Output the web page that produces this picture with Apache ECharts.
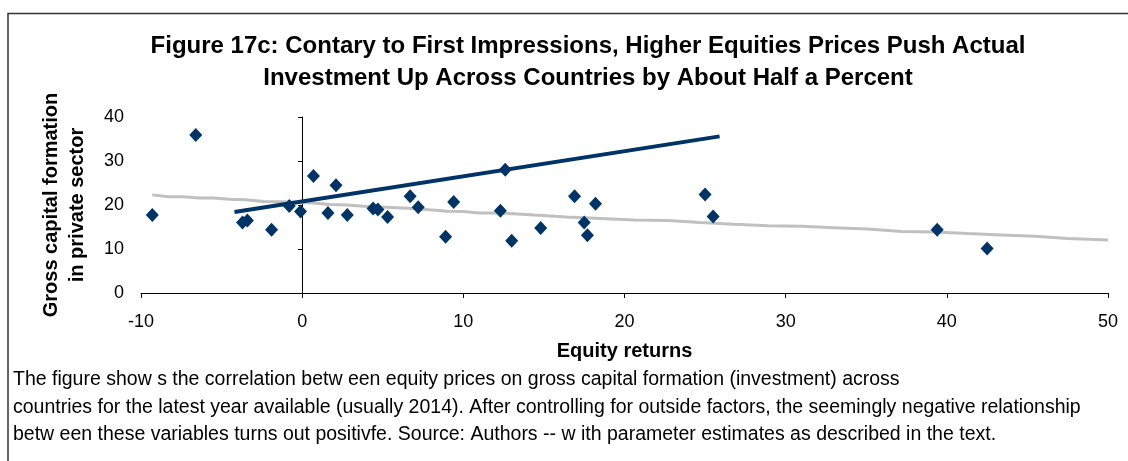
<!DOCTYPE html>
<html>
<head>
<meta charset="utf-8">
<script src="https://cdn.jsdelivr.net/npm/echarts@6/dist/echarts.min.js"></script>
<style>
  html, body { margin: 0; padding: 0; background: #fff; }
  #chart { width: 1128px; height: 461px; }
</style>
</head>
<body>
<div id="chart"></div>
<script>
// country observations: equity returns (x) vs gross capital formation (y)
const equityReturns = [-9.3, -6.6, -3.7, -3.4, -1.9, -0.8, -0.1, 0.7, 1.6, 2.1, 2.8, 4.4, 4.7, 5.3, 6.7, 7.2, 8.9, 9.4, 12.3, 12.6, 13.0, 14.8, 16.9, 17.5, 17.7, 18.2, 25.0, 25.5, 39.4, 42.5];
const capitalFormation = [17.7, 35.9, 16.0, 16.5, 14.4, 19.8, 18.5, 26.6, 18.2, 24.5, 17.7, 19.2, 19.0, 17.3, 22.0, 19.5, 12.8, 20.7, 18.7, 28.0, 11.9, 14.8, 22.0, 16.0, 13.1, 20.3, 22.4, 17.4, 14.4, 10.1];

// fitted line after controls (dark blue)
const fitX = [-4.2, 25.9];
const fitY = [18.4, 35.6];

// raw trend (grey)
const trendX = [-9.3, -8.3, -7.4, -6.4, -5.5, -4.5, -3.5, -2.4, -1.4, -0.35, 0.7, 1.7, 2.8, 3.8, 4.8, 5.9, 6.9, 7.9, 9.0, 10.0, 11.0, 12.3, 14.4, 16.4, 18.5, 20.6, 22.7, 24.7, 26.8, 28.9, 31.0, 33.0, 35.1, 37.2, 39.2, 41.3, 43.4, 45.5, 47.5, 50.0];
const trendY = [22.3, 21.9, 21.9, 21.6, 21.6, 21.3, 21.2, 20.8, 20.75, 20.6, 20.45, 20.1, 20.0, 19.7, 19.55, 19.4, 19.2, 18.9, 18.6, 18.5, 18.2, 18.2, 17.7, 17.3, 16.95, 16.6, 16.5, 16.05, 15.6, 15.3, 15.15, 14.85, 14.55, 14.0, 13.85, 13.5, 13.2, 12.9, 12.4, 12.05];

const xTicks = { min: -10, max: 50, interval: 10 };
const yTicks = { min: 0, max: 40, interval: 10 };

const titleText = "Figure 17c: Contary to First Impressions, Higher Equities Prices Push Actual\nInvestment Up Across Countries by About Half a Percent";
const captionText = [
  "The figure show s the correlation betw een equity prices on gross capital formation (investment) across",
  "countries for the latest year available (usually 2014). After controlling for outside factors, the seemingly negative relationship",
  "betw een these variables turns out positivfe. Source: Authors -- w ith parameter estimates as described in the text."
];

const zip = (xs, ys) => xs.map((x, i) => [x, ys[i]]);
const font = "Liberation Sans, Arial, sans-serif";

const chart = echarts.init(document.getElementById("chart"));
const option = {
  animation: false,
  title: {
    text: titleText,
    // centred a little right of the page middle, as in the source
    left: 583,
    textAlign: "center",
    top: 25,
    textStyle: {
      fontFamily: font,
      fontSize: 24,
      fontWeight: "bold",
      color: "#000",
      lineHeight: 32,
    },
  },
  grid: {
    left: 141,
    right: 20,
    top: 117,
    height: 176,
  },
  xAxis: {
    type: "value",
    min: xTicks.min,
    max: xTicks.max,
    interval: xTicks.interval,
    splitLine: { show: false },
    axisLine: { lineStyle: { color: "#000", width: 1 } },
    axisTick: { length: 5, lineStyle: { color: "#000" } },
    axisLabel: { fontFamily: font, fontSize: 18, color: "#000", margin: 20 },
    name: "Equity returns",
    nameLocation: "middle",
    nameGap: 48,
    nameTextStyle: {
      fontFamily: font,
      fontSize: 20,
      fontWeight: "bold",
      color: "#000",
    },
  },
  yAxis: [
    {
      // labels sit at the left edge of the plot
      type: "value",
      min: yTicks.min,
      max: yTicks.max,
      interval: yTicks.interval,
      position: "left",
      splitLine: { show: false },
      axisLine: { show: false, onZero: false },
      axisTick: { show: false },
      axisLabel: { fontFamily: font, fontSize: 18, color: "#000", margin: 17 },
      name: "Gross capital formation\nin private sector",
      nameLocation: "middle",
      nameGap: 51,
      nameRotate: 90,
      nameTextStyle: {
        fontFamily: font,
        fontSize: 20,
        fontWeight: "bold",
        color: "#000",
        lineHeight: 26,
      },
    },
    {
      // the vertical axis line crosses at x = 0
      type: "value",
      min: yTicks.min,
      max: yTicks.max,
      interval: yTicks.interval,
      position: "left",
      splitLine: { show: false },
      axisLine: { show: true, onZero: true, lineStyle: { color: "#000", width: 1 } },
      axisTick: { show: true, length: 4, lineStyle: { color: "#000" } },
      axisLabel: { show: false },
    },
  ],
  series: [
    {
      type: "line",
      data: zip(trendX, trendY),
      showSymbol: false,
      lineStyle: { color: "#c0c0c0", width: 3 },
      z: 2,
    },
    {
      type: "line",
      data: zip(fitX, fitY),
      showSymbol: false,
      lineStyle: { color: "#003366", width: 4 },
      z: 3,
    },
    {
      type: "scatter",
      data: zip(equityReturns, capitalFormation),
      symbol: "diamond",
      symbolSize: [13, 14],
      itemStyle: { color: "#003366", opacity: 1 },
      z: 4,
    },
  ],
  graphic: [
    {
      type: "polyline",
      shape: { points: [[8, 461], [8, 13.5], [1128, 13.5]] },
      style: { stroke: "#333", lineWidth: 1.5, fill: null },
      silent: true,
    },
    {
      type: "text",
      left: 13,
      top: 366,
      style: {
        text: captionText.join("\n"),
        fontFamily: font,
        fontSize: 19.5,
        lineHeight: 27.5,
        fill: "#000",
      },
    },
  ],
};
chart.setOption(option);
</script>
</body>
</html>
